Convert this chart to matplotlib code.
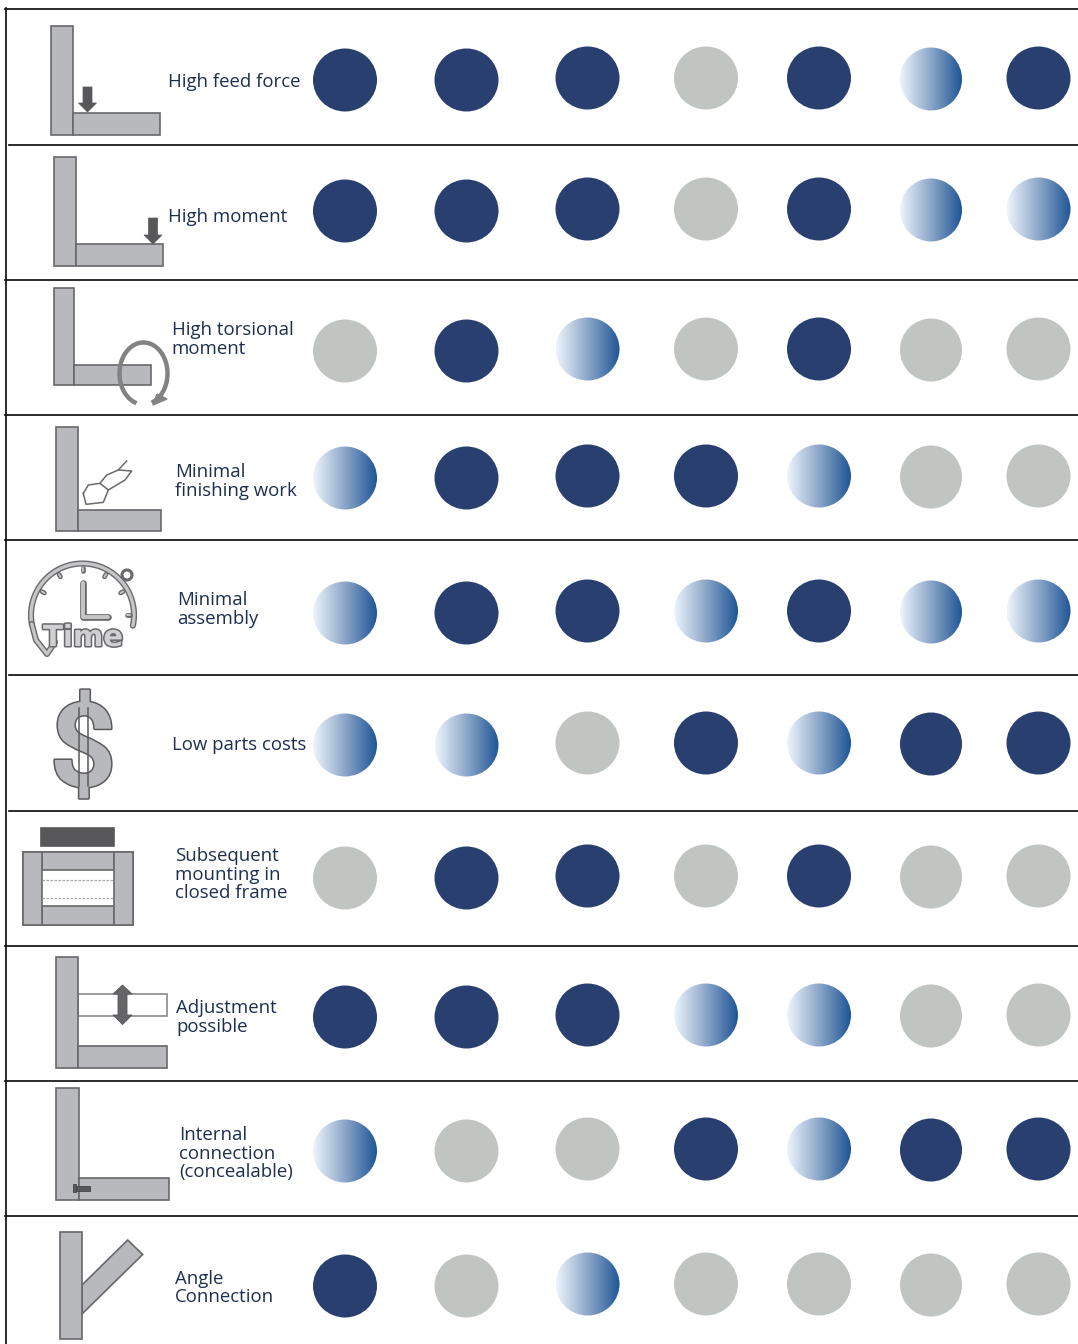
import numpy as np
import matplotlib
matplotlib.use("Agg")
import matplotlib.pyplot as plt
import matplotlib.patheffects as pe
from matplotlib.colors import LinearSegmentedColormap
from matplotlib.patches import Circle, Ellipse, Polygon, Rectangle

# 2 = full, 1 = partial (gradient), 0 = none
row_labels = ["High feed force", "High moment", "High torsional\nmoment",
              "Minimal\nfinishing work", "Minimal\nassembly", "Low parts costs",
              "Subsequent\nmounting in\nclosed frame", "Adjustment\npossible",
              "Internal\nconnection\n(concealable)", "Angle\nConnection"]
col_1 = [2, 2, 0, 1, 1, 1, 0, 2, 1, 2]
col_2 = [2, 2, 2, 2, 2, 1, 2, 2, 0, 0]
col_3 = [2, 2, 1, 2, 2, 0, 2, 2, 0, 1]
col_4 = [0, 0, 0, 2, 1, 2, 0, 1, 2, 0]
col_5 = [2, 2, 2, 1, 2, 1, 2, 1, 1, 0]
col_6 = [1, 1, 0, 0, 1, 2, 0, 0, 2, 0]
col_7 = [2, 1, 0, 0, 1, 2, 0, 0, 2, 0]
columns = [col_1, col_2, col_3, col_4, col_5, col_6, col_7]

# layout, in pixels of the picture
col_x = [345, 466.5, 587.5, 706, 819, 931, 1038.5]
col_dy = [2, 2, 0, 0, 0, 1, 0]
col_r = [32, 32, 32, 32, 32, 31, 32]
row_y = [78, 209, 349, 476, 611, 743, 876, 1015, 1149, 1284]
label_x = [168.5, 168, 171.5, 175, 177, 171.5, 175, 176.5, 179.5, 175]
label_y = [87, 222, 335, 477, 605, 750, 861, 1013, 1140, 1283.5]
line_y = [8.5, 144.5, 279.5, 414.5, 540, 675, 810.5, 945.5, 1081, 1216]
line_x0 = [5, 9, 5, 5, 5, 9, 9, 5, 5, 5]

DARK = "#283f6f"
GREY = "#c1c5c1"
STEEL = "#b8b9bd"
EDGE = "#68686b"
ARROW = "#58585a"
TEXT = "#1d2f4f"

gradient = LinearSegmentedColormap.from_list("part", ["#eef5fc", "#8ba6c9", "#1f5596"])


def draw_gradient_dot(ax, x, y, r):
  clip = Ellipse((x, y), 2 * r, 63, transform=ax.transData)
  im = ax.imshow(np.linspace(0, 1, 256).reshape(1, -1), cmap=gradient, aspect="auto",
                 extent=(x - r, x + r, y + 34, y - 34), zorder=2)
  im.set_clip_path(clip)


def box(ax, x0, y0, x1, y1, fc=STEEL, ec=EDGE, lw=1.2):
  ax.add_patch(Rectangle((x0, y0), x1 - x0, y1 - y0, fc=fc, ec=ec, lw=lw, zorder=3))


def bracket(ax, x0, x1, x2, y0, y1, y2):
  box(ax, x0, y0, x1, y2)
  box(ax, x1, y1, x2, y2)


def down_arrow(ax, x, y0, tip):
  pts = [(x - 4.5, y0), (x + 4.5, y0), (x + 4.5, tip - 9), (x + 9, tip - 9), (x, tip),
         (x - 9, tip - 9), (x - 4.5, tip - 9)]
  ax.add_patch(Polygon(pts, fc=ARROW, ec=ARROW, lw=0.5, zorder=4))


def outlined(ax, xs, ys, w=4.4):
  ax.plot(xs, ys, color="#69696b", lw=w, solid_capstyle="round", solid_joinstyle="round", zorder=3)
  ax.plot(xs, ys, color="#c6c6c8", lw=w - 2.0, solid_capstyle="round", solid_joinstyle="round", zorder=3)


def draw_clock(ax):
  t = np.radians(np.linspace(-190, 12, 80))
  xs = 82.5 + 51.5 * np.cos(t)
  ys = 615 + 51.5 * np.sin(t)
  outlined(ax, xs, ys)
  outlined(ax, [xs[0], 36, 47, 55], [ys[0], 640, 654, 642])
  outlined(ax, [82.7, 82.7, 108], [583, 617, 617], w=4.8)
  for a in [-150, -120, -90, -60, -30, 0]:
    r = np.radians(a)
    outlined(ax, [82.5 + 44 * np.cos(r), 82.5 + 47 * np.cos(r)],
             [615 + 44 * np.sin(r), 615 + 47 * np.sin(r)], w=3.4)
  ax.add_patch(Circle((127, 575), 5, fc="white", ec="#69696b", lw=2.2, zorder=3))
  ax.text(83, 646, "Time", fontsize=21, fontweight="bold", family="DejaVu Sans", ha="center", va="baseline",
          color="#d0d0d2", zorder=4, path_effects=[pe.withStroke(linewidth=2.2, foreground="#69696b")])


def draw_icons(ax):
  bracket(ax, 51, 73, 160, 26, 113, 135)
  down_arrow(ax, 87.5, 87, 112)

  bracket(ax, 54, 76, 163, 157, 244, 266)
  down_arrow(ax, 153, 218, 244)

  bracket(ax, 54, 73.5, 151, 288, 365, 384.5)
  t = np.radians(np.linspace(112, 425, 80))
  ax.plot(143.5 + 24 * np.cos(t), 373.5 + 31 * np.sin(t), color="#828282", lw=3.2, zorder=4)
  ax.add_patch(Polygon([(153, 405), (167, 399), (157, 394)], fc="#828282", ec="#828282", zorder=4))

  bracket(ax, 56, 78, 161, 427, 510, 531)
  leaf_a = np.array([(250, 235), (265, 210), (300, 205), (325, 225), (310, 262), (258, 268), (250, 235)])
  leaf_b = np.array([(300, 205), (320, 180), (355, 165), (395, 168), (375, 195), (325, 225)])
  stem = np.array([(355, 165), (380, 138)])
  for part in [leaf_a, leaf_b, stem]:
    ax.plot(part[:, 0] / 3, 415 + part[:, 1] / 3, color="#6a6a6a", lw=1.1, zorder=3)

  draw_clock(ax)

  ax.text(83, 754, "$", fontsize=84, fontweight="bold", family="Roboto",
          ha="center", va="center", color=STEEL, zorder=3,
          path_effects=[pe.withStroke(linewidth=2.2, foreground="#5a5a5c")])
  for x in [78.5, 87.5]:
    ax.plot([x, x], [708, 786], color="#5a5a5c", lw=1.1, zorder=4)

  box(ax, 41, 828, 114, 846, fc=ARROW, ec=ARROW)
  box(ax, 22.5, 852, 132.5, 925, fc="white")
  box(ax, 41.5, 852, 113.5, 870)
  box(ax, 41.5, 906, 113.5, 925)
  box(ax, 22.5, 852, 41.5, 925)
  box(ax, 113.5, 852, 132.5, 925)
  for y in [879.5, 897.5]:
    ax.plot([42, 113], [y, y], color="#a5a5a8", lw=0.9, ls=(0, (2, 1.2)), zorder=3)

  box(ax, 78, 993.5, 167, 1016, fc="white", ec="#8a8a8d")
  bracket(ax, 55.5, 78, 167, 957, 1045.5, 1068)
  ax.add_patch(Polygon([(122.5, 985), (132, 994), (127, 994), (127, 1015), (132, 1015), (122.5, 1024.5),
                        (113, 1015), (118, 1015), (118, 994), (113, 994)], fc="#666668", ec="#555557", lw=0.6, zorder=4))

  bracket(ax, 55.5, 78.5, 168.5, 1088, 1177.5, 1200)
  box(ax, 76, 1186, 90, 1190.5, fc="#58585a", ec="#444446", lw=0.6)
  box(ax, 73, 1184, 76, 1192, fc="#58585a", ec="#444446", lw=0.6)

  ax.add_patch(Polygon([(82, 1285), (127.7, 1240), (142.7, 1254.5), (82, 1314)], fc=STEEL, ec=EDGE, lw=1.2, zorder=3))
  box(ax, 60, 1232, 82, 1339)


fig = plt.figure(figsize=(10.78, 13.44), dpi=100)
ax = fig.add_axes([0, 0, 1, 1])

for x0, y in zip(line_x0, line_y):
  ax.plot([x0, 1078], [y, y], color="#111111", lw=1.25, zorder=1)
ax.plot([5.5, 5.5], [8, 1344], color="#111111", lw=1.25, zorder=1)

for c, values in enumerate(columns):
  for r, v in enumerate(values):
    x = col_x[c]
    y = row_y[r] + col_dy[c]
    if v == 2:
      ax.add_patch(Ellipse((x, y), 2 * col_r[c], 63, fc=DARK, ec="none", zorder=2))
    elif v == 0:
      ax.add_patch(Ellipse((x, y), 2 * col_r[c], 63, fc=GREY, ec="none", zorder=2))
    else:
      draw_gradient_dot(ax, x, y, col_r[c])

for r, label in enumerate(row_labels):
  for i, part in enumerate(label.split("\n")):
    ax.text(label_x[r], label_y[r] + i * 18.7, part, family="Open Sans", fontsize=13.4, color=TEXT,
            ha="left", va="baseline", zorder=5)

draw_icons(ax)

ax.set_xlim(0, 1078)
ax.set_ylim(1344, 0)
ax.axis("off")
fig.savefig("out.png", dpi=100)
